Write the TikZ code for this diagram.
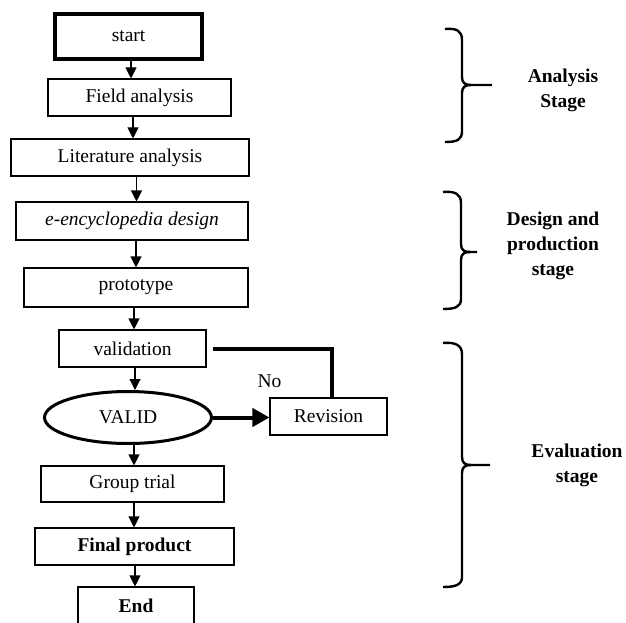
\documentclass[tikz,border=0pt]{standalone}
\usepackage{fontspec}
\setmainfont{Liberation Serif}
\usetikzlibrary{arrows.meta,shapes.geometric}
\begin{document}
\begin{tikzpicture}[x=1pt,y=-1pt,
  txt/.style={font=\fontsize{19.5}{24}\selectfont},
  box/.style={txt,draw,line width=1.1pt,rectangle,inner sep=0pt,minimum height=37pt},
  arr/.style={line width=1.1pt,-{Triangle[length=11pt,width=11pt]}},
  heavy/.style={line width=4pt},
  brace/.style={line width=2.4pt},
  stagelbl/.style={font=\bfseries\fontsize{19.5}{25}\selectfont,align=center,inner sep=0pt}]
\useasboundingbox (0,0) rectangle (626,623);
% flow boxes
\node[box,line width=3.6pt,minimum width=147pt,minimum height=45pt] (start) at (128.6,36.5) {start};
\node[box,minimum width=183pt] (field) at (139.5,97.5) {Field analysis};
\node[box,minimum width=238pt] (lit) at (130,157.5) {Literature analysis};
\node[box,minimum width=232pt,minimum height=38pt] (design) at (132,221) {\itshape e-encyclopedia design};
\node[box,minimum width=224pt,minimum height=39pt] (proto) at (136,287.5) {prototype};
\node[box,minimum width=147pt] (valbox) at (132.5,348.5) {validation};
\node[txt,draw,ellipse,line width=3pt,inner sep=0pt,minimum width=167pt,minimum height=52pt] (valid) at (128,417.5) {VALID};
\node[box,minimum width=117pt] (rev) at (328.5,416.5) {Revision};
\node[box,minimum width=183pt,minimum height=36pt] (group) at (132.5,484) {Group trial};
\node[box,minimum width=199pt,font=\bfseries\fontsize{19.5}{24}\selectfont] (final) at (134.5,546.5) {Final product};
\node[box,minimum width=116pt,minimum height=38pt,font=\bfseries\fontsize{19.5}{24}\selectfont] (endn) at (136,606) {End};
\node[txt,inner sep=0pt] (no) at (269.5,381) {No};
% arrows
\draw[arr] (start.south -| 131,0) -- (field.north -| 131,0);
\draw[arr] (field.south -| 133,0) -- (lit.north -| 133,0);
\draw[arr] (lit.south -| 136.5,0) -- (design.north -| 136.5,0);
\draw[arr] (design.south -| 136,0) -- (proto.north -| 136,0);
\draw[arr] (proto.south -| 134,0) -- (valbox.north -| 134,0);
\draw[arr] (valbox.south -| 135,0) -- (valid.north -| 135,0);
\draw[arr] (valid.south -| 134,0) -- (group.north -| 134,0);
\draw[arr] (group.south -| 134,0) -- (final.north -| 134,0);
\draw[arr] (final.south -| 135,0) -- (endn.north -| 135,0);
% revision loop
\draw[heavy] ([xshift=6pt]valbox.east) -| (rev.north -| 332,0);
\draw[heavy,-{Triangle[length=17pt,width=18pt]}] (valid.east) -- (valid.east -| rev.west);
% braces
\draw[brace] (445,29) .. controls (457,28) and (462,31) .. (462,40) -- (462,77)
  .. controls (462,83) and (465,85) .. (471,85) -- (492,85);
\draw[brace] (471,85) .. controls (465,85) and (462,87) .. (462,93) -- (462,131)
  .. controls (462,140) and (457,142) .. (445,142);
\draw[brace] (443,192) .. controls (455,191) and (461,194) .. (461,203) -- (461,244)
  .. controls (461,250) and (464,252) .. (470,252) -- (477,252);
\draw[brace] (470,252) .. controls (464,252) and (461,254) .. (461,260) -- (461,299)
  .. controls (461,307) and (455,309) .. (443,309);
\draw[brace] (443,343) .. controls (455,342) and (462,345) .. (462,354) -- (462,457)
  .. controls (462,463) and (465,465) .. (471,465) -- (490,465);
\draw[brace] (471,465) .. controls (465,465) and (462,467) .. (462,473) -- (462,577)
  .. controls (462,585) and (455,587) .. (443,587);
% stage labels
\node[stagelbl] (lblA) at (563,90) {Analysis\\Stage};
\node[stagelbl] (lblD) at (553,246) {Design and\\production\\stage};
\node[stagelbl] (lblE) at (577,465) {Evaluation\\stage};
\end{tikzpicture}
\end{document}
